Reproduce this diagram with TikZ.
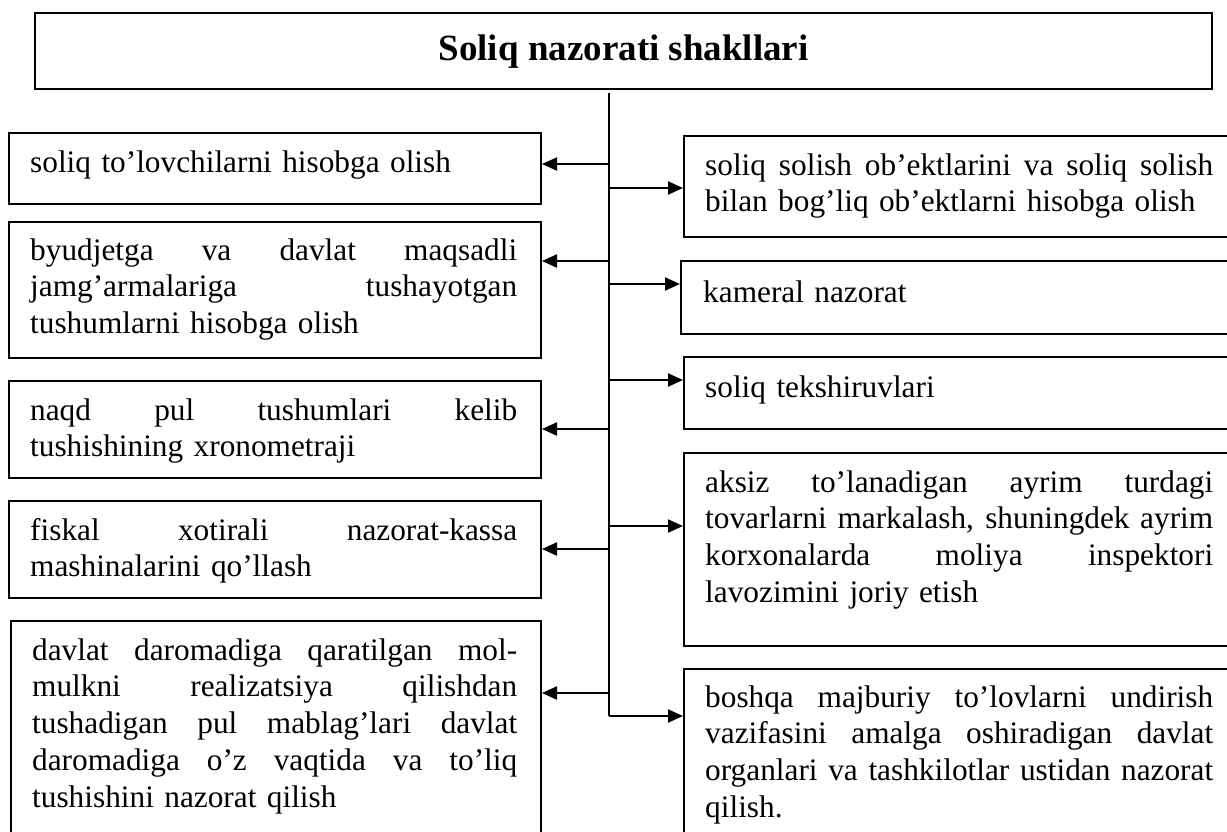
\documentclass[tikz,border=0pt]{standalone}
\usepackage{fontspec}
\setmainfont{Liberation Serif}
\usetikzlibrary{arrows.meta}
\newcommand\jl[2]{\makebox[#1][s]{\spaceskip=0.25em plus 1fil\relax #2}}
\begin{document}
\begin{tikzpicture}[x=1pt,y=-1pt,
  box/.style={draw, line width=2pt, rectangle, inner sep=0pt, anchor=north west},
  txt/.style={anchor=base west, inner sep=0pt, align=left, font=\fontsize{31.3}{36.8}\selectfont},
  ltxt/.style={txt, text width=487pt},
  rtxt/.style={txt, text width=508pt},
  arr/.style={line width=2pt, -{Triangle[length=15pt,width=13pt]}},
  trunkline/.style={line width=1.3pt}]
\clip (0,0) rectangle (1227,831);
\fill[white] (0,0) rectangle (1227,831);

% title
\node[box, line width=2.3pt, minimum width=1177pt, minimum height=76pt,
      font=\fontsize{37}{40}\selectfont\bfseries] (title) at (34,12) {Soliq nazorati shakllari};

% left boxes
\node[box, minimum width=532pt, minimum height=71pt]  (L1) at (8,132) {};
\node[box, minimum width=532pt, minimum height=136pt] (L2) at (8,221) {};
\node[box, minimum width=532pt, minimum height=97pt]  (L3) at (8,380) {};
\node[box, minimum width=532pt, minimum height=97pt]  (L4) at (8,500) {};
\node[box, minimum width=530pt, minimum height=240pt] (L5) at (10,620) {};

% right boxes
\node[box, minimum width=600pt, minimum height=101pt] (R1) at (683,135) {};
\node[box, minimum width=600pt, minimum height=73pt]  (R2) at (680,260) {};
\node[box, minimum width=600pt, minimum height=72pt]  (R3) at (683,356) {};
\node[box, minimum width=600pt, minimum height=193pt] (R4) at (683,452) {};
\node[box, minimum width=600pt, minimum height=200pt] (R5) at (683,668) {};

% texts
\node[ltxt] (L1t) at (30,172) {\noindent soliq to’lovchilarni hisobga olish};
\node[ltxt] (L2t) at (30,260) {\noindent\jl{487pt}{byudjetga va davlat maqsadli}\\
  \jl{487pt}{jamg’armalariga tushayotgan}\\ tushumlarni hisobga olish};
\node[ltxt] (L3t) at (30,420) {\noindent\jl{487pt}{naqd pul tushumlari kelib}\\
  tushishining xronometraji};
\node[ltxt] (L4t) at (30,540) {\noindent\jl{487pt}{fiskal xotirali nazorat-kassa}\\
  mashinalarini qo’llash};
\node[ltxt, text width=485pt] (L5t) at (32,660) {\noindent\jl{485pt}{davlat daromadiga qaratilgan mol-}\\
  \jl{485pt}{mulkni realizatsiya qilishdan}\\
  \jl{485pt}{tushadigan pul mablag’lari davlat}\\
  \jl{485pt}{daromadiga o’z vaqtida va to’liq}\\
  tushishini nazorat qilish};

\node[rtxt] (R1t) at (705,175) {\noindent\jl{508pt}{soliq solish ob’ektlarini va soliq solish}\\
  bilan bog’liq ob’ektlarni hisobga olish};
\node[rtxt] (R2t) at (703,302) {\noindent kameral nazorat};
\node[rtxt] (R3t) at (705,397) {\noindent soliq tekshiruvlari};
\node[rtxt] (R4t) at (705,492) {\noindent\jl{508pt}{aksiz to’lanadigan ayrim turdagi}\\
  \jl{508pt}{tovarlarni markalash, shuningdek ayrim}\\
  \jl{508pt}{korxonalarda moliya inspektori}\\
  lavozimini joriy etish};
\node[rtxt] (R5t) at (705,707) {\noindent\jl{508pt}{boshqa majburiy to’lovlarni undirish}\\
  \jl{508pt}{vazifasini amalga oshiradigan davlat}\\
  \jl{508pt}{organlari va tashkilotlar ustidan nazorat}\\
  qilish.};

% trunk
\coordinate (top) at (609,93);
\coordinate (bot) at (609,716);
\draw[trunkline] (top) -- (bot);

\coordinate (a1) at (609,164);
\coordinate (a2) at (609,261);
\coordinate (a3) at (609,429);
\coordinate (a4) at (609,549);
\coordinate (a5) at (609,693);
\coordinate (b1) at (609,188);
\coordinate (b2) at (609,284);
\coordinate (b3) at (609,380);
\coordinate (b4) at (609,526);

\draw[arr] (a1) -- (a1 -| L1.east);
\draw[arr] (a2) -- (a2 -| L2.east);
\draw[arr] (a3) -- (a3 -| L3.east);
\draw[arr] (a4) -- (a4 -| L4.east);
\draw[arr] (a5) -- (a5 -| L5.east);
\draw[arr] (b1) -- (b1 -| R1.west);
\draw[arr] (b2) -- (b2 -| R2.west);
\draw[arr] (b3) -- (b3 -| R3.west);
\draw[arr] (b4) -- (b4 -| R4.west);
\draw[arr] (bot) -- (bot -| R5.west);
\end{tikzpicture}
\end{document}
